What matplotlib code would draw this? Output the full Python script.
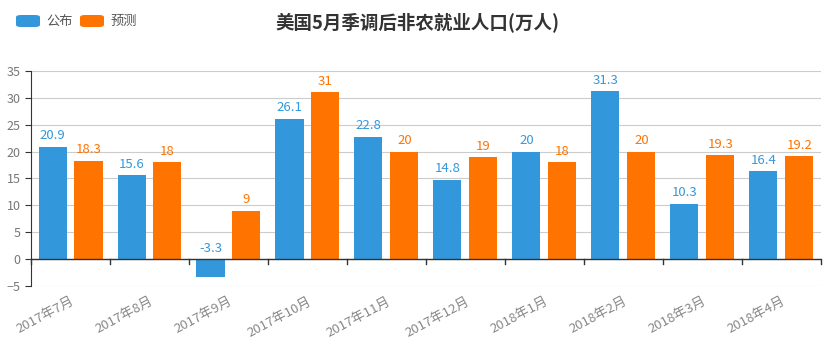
import matplotlib
matplotlib.use("Agg")
import matplotlib.pyplot as plt
from matplotlib.patches import FancyBboxPatch
import numpy as np

plt.rcParams['font.family'] = ['Noto Sans CJK SC', 'DejaVu Sans']

months = ["2017年7月", "2017年8月", "2017年9月", "2017年10月", "2017年11月",
          "2017年12月", "2018年1月", "2018年2月", "2018年3月", "2018年4月"]
published = [20.9, 15.6, -3.3, 26.1, 22.8, 14.8, 20, 31.3, 10.3, 16.4]
forecast = [18.3, 18, 9, 31, 20, 19, 18, 20, 19.3, 19.2]
series_names = ["公布", "预测"]

BLUE = "#3398DB"
ORANGE = "#FF7300"
GREY = "#777777"

fig = plt.figure(figsize=(8.34, 3.51), dpi=100)
ax = fig.add_axes([0.0372, 0.185, 0.947, 0.613])

x = np.arange(len(months))
w = 0.355
gap = 0.1
ax.bar(x - gap / 2 - w / 2, published, w, color=BLUE, zorder=3)
ax.bar(x + gap / 2 + w / 2, forecast, w, color=ORANGE, zorder=3)

for i in range(len(months)):
    for v, off, c in ((published[i], -gap / 2 - w / 2, BLUE), (forecast[i], gap / 2 + w / 2, ORANGE)):
        ax.text(x[i] + off, max(v, 0) + 0.8, f"{v:g}", ha="center", va="bottom",
                fontsize=9.5, color=c)

ax.set_xlim(-0.5, len(months) - 0.5)
ax.set_ylim(-5, 35)
ax.set_yticks(range(-5, 36, 5))
ax.yaxis.grid(True, color="#CCCCCC", linewidth=0.8, zorder=0)
ax.tick_params(axis="y", labelcolor=GREY, labelsize=9, length=4, direction="out",
               color="#333333")

for s in ("top", "right", "bottom"):
    ax.spines[s].set_visible(False)
ax.spines["left"].set_color("#333333")
ax.axhline(0, color="#333333", linewidth=1, zorder=4)

# x ticks at category boundaries on the zero line
ax.set_xticks([])
for b in np.arange(-0.5, len(months), 1.0):
    ax.plot([b, b], [0, -0.9], color="#333333", linewidth=1, zorder=4, clip_on=False)
for i, m in enumerate(months):
    ax.text(x[i] + 0.0, -6.6, m, rotation=28, ha="right", va="top",
            fontsize=9.5, color="#888888", rotation_mode="anchor")

fig.text(0.5, 0.935, "美国5月季调后非农就业人口(万人)", ha="center", va="center",
         fontsize=13.3, fontweight="bold", color="#333333")

# legend
for j, (name, c) in enumerate(zip(series_names, (BLUE, ORANGE))):
    x0 = 16 + j * 64
    fig.patches.append(FancyBboxPatch((x0 / 834, 1 - 27 / 351), 24 / 834, 12 / 351,
                                      boxstyle="round,pad=0,rounding_size=0.006",
                                      transform=fig.transFigure, facecolor=c,
                                      edgecolor="none", figure=fig))
    fig.text((x0 + 30) / 834, 1 - 21 / 351, name, ha="left", va="center",
             fontsize=9.5, color="#555555")

fig.savefig("out.png", dpi=100)
